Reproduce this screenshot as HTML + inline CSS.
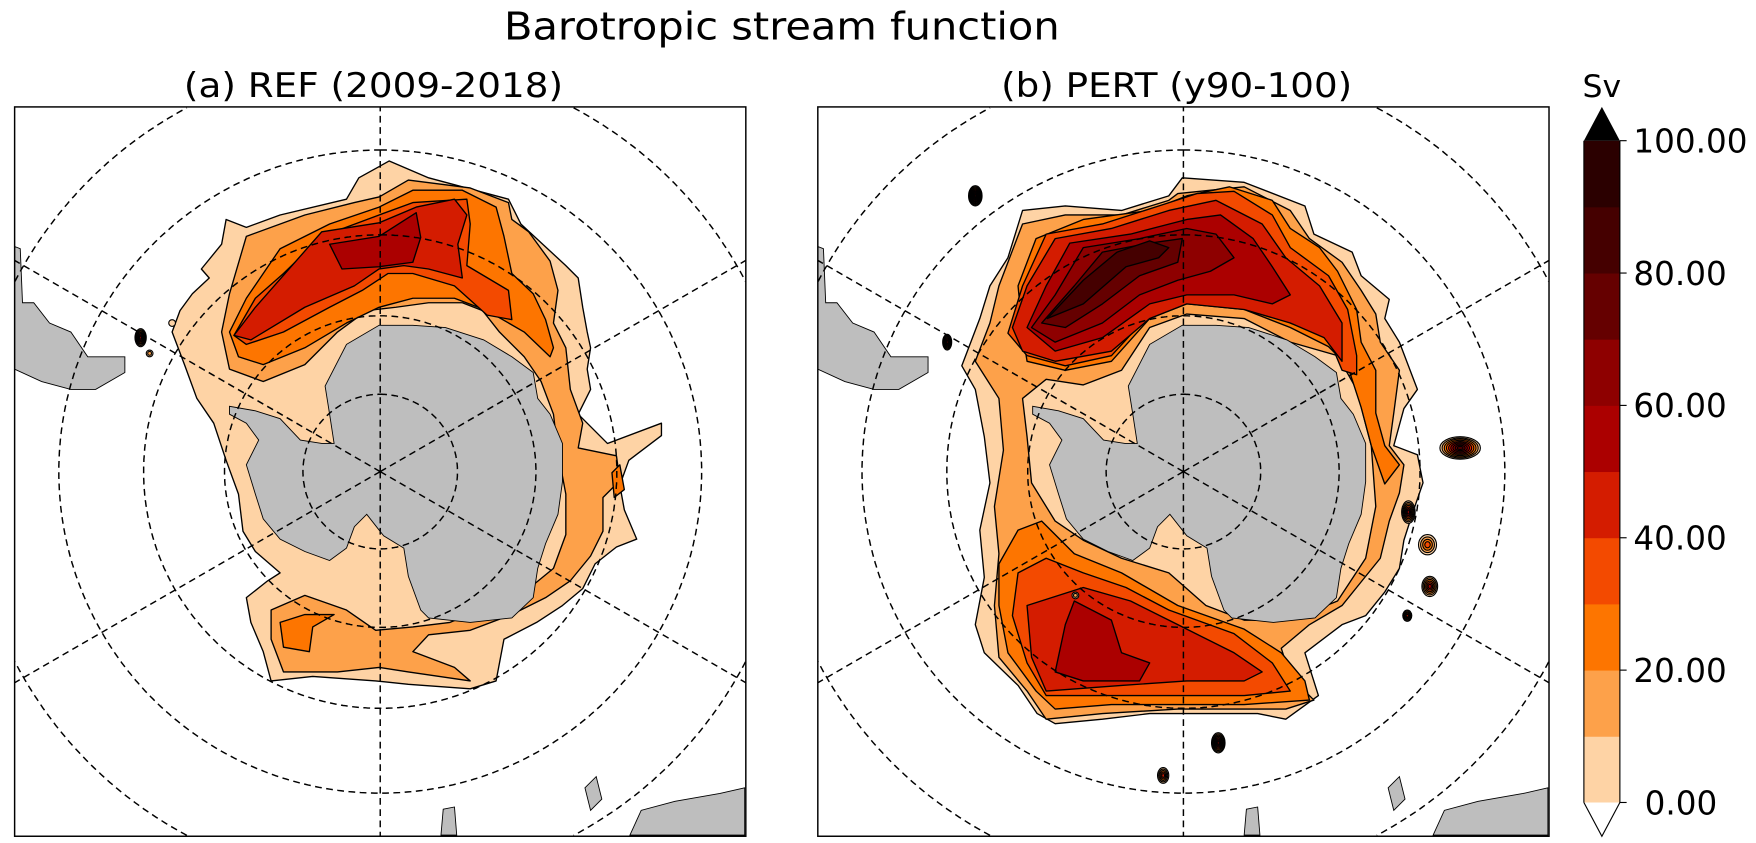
<!DOCTYPE html>
<html><head><meta charset="utf-8"><title>Barotropic stream function</title>
<style>html,body{margin:0;padding:0;background:#fff;width:1756px;height:843px;overflow:hidden;}svg{display:block;}</style></head>
<body>
<svg id="fig" xmlns="http://www.w3.org/2000/svg" width="1756" height="843" viewBox="0 0 1561 749" preserveAspectRatio="none" font-family="DejaVu Sans, Liberation Sans, sans-serif">
<rect x="0" y="0" width="1561" height="749" fill="#fff"/>
<text x="695" y="35" font-size="34" text-anchor="middle" textLength="494" lengthAdjust="spacingAndGlyphs">Barotropic stream function</text>
<text x="332" y="86" font-size="30" text-anchor="middle" textLength="337" lengthAdjust="spacingAndGlyphs">(a) REF (2009-2018)</text>
<text x="1046" y="86" font-size="30" text-anchor="middle" textLength="312" lengthAdjust="spacingAndGlyphs">(b) PERT (y90-100)</text>
<text x="1424" y="86" font-size="28" text-anchor="middle">Sv</text>
<defs>
<clipPath id="clipA"><rect x="13" y="95" width="650" height="648"/></clipPath>
<clipPath id="clipB"><rect x="727" y="95" width="650" height="648"/></clipPath>
</defs>
<g id="panelA" clip-path="url(#clipA)"></g>
<g id="panelB" clip-path="url(#clipB)"></g>
<g id="cbar"></g>
</svg>
<script>
// ---- Colour levels (Sv) ----
const levelValues = [0,10,20,30,40,50,60,70,80,90];
const levelColors = ["#fed3a5","#fda14a","#fd7500","#f34a00","#d41c00","#ab0000","#8e0000","#650000","#450000","#2b0000"];
const cbarTicks = [0,20,40,60,80,100];
const cbarTickLabels = ["0.00","20.00","40.00","60.00","80.00","100.00"];
const gridColats = [10,20,30,40,50];
const gridLons = [0,60,120,180,240,300];

// ---- Contour polygons, polar-stereographic grid coords (east, north), ~16 km units ----
const refL0 = [[8,276],[43,261],[114,242],[125,220],[165,183],[176,172],[180,146],[184,124],[187,110],[184,91],[187,73],[176,51],[202,25],[250,43],[250,32],[221,10],[213,-12],[217,-34],[228,-60],[210,-67],[191,-82],[180,-104],[162,-119],[139,-134],[110,-149],[103,-186],[80,-193],[25,-189],[-4,-186],[-60,-182],[-97,-186],[-104,-160],[-115,-134],[-119,-112],[-100,-97],[-89,-90],[-111,-71],[-122,-53],[-126,-20],[-137,10],[-148,43],[-163,65],[-174,95],[-185,124],[-178,143],[-167,158],[-152,172],[-159,180],[-141,202],[-137,224],[-119,217],[-89,228],[-30,242],[-19,261]];
const refL1 = [[-134,158],[-119,209],[-67,228],[-23,239],[-1,244],[25,259],[80,252],[114,239],[117,224],[132,213],[151,187],[158,161],[154,132],[165,110],[169,73],[180,43],[176,21],[210,14],[213,-8],[198,-23],[198,-53],[187,-75],[169,-97],[147,-112],[117,-127],[80,-141],[43,-145],[29,-160],[66,-174],[80,-186],[25,-178],[-1,-174],[-38,-178],[-86,-178],[-97,-149],[-97,-123],[-67,-110],[-30,-123],[-4,-141],[29,-138],[62,-134],[99,-119],[132,-104],[154,-86],[165,-56],[165,-20],[158,17],[154,51],[143,80],[128,102],[106,124],[91,143],[73,150],[43,150],[14,146],[-12,143],[-38,124],[-67,95],[-104,80],[-134,91],[-141,124]];
const refL2a = [[-126,102],[-134,124],[-119,154],[-89,198],[-45,220],[-1,235],[29,250],[73,250],[103,235],[110,209],[117,176],[136,158],[147,135],[154,110],[151,102],[128,124],[95,143],[66,154],[29,154],[-1,146],[-30,132],[-67,110],[-104,95]];
const refL2b = [[-89,-134],[-67,-127],[-41,-127],[-60,-138],[-63,-160],[-86,-156]];
const refL2c = [[206,-1],[213,6],[217,-16],[208,-23]];
const refL3 = [[-130,121],[-111,154],[-86,176],[-52,209],[-1,228],[29,239],[77,242],[80,220],[77,183],[114,161],[117,135],[95,139],[66,165],[29,176],[7,176],[-16,161],[-45,146],[-86,124],[-119,113]];
const refL4 = [[-130,121],[-111,146],[-52,213],[-1,221],[32,235],[66,242],[77,228],[69,202],[73,172],[43,180],[21,183],[-1,180],[-23,165],[-67,146],[-115,117]];
const refL5 = [[-45,202],[-1,209],[32,230],[36,208],[29,186],[-1,182],[-34,180]];

const pertL0 = [[-1,261],[54,257],[108,236],[116,211],[150,195],[158,174],[183,153],[179,136],[192,115],[208,73],[196,56],[187,23],[208,15],[213,-10],[204,-36],[196,-61],[192,-86],[179,-107],[162,-128],[141,-136],[108,-161],[120,-199],[91,-220],[66,-215],[12,-215],[-30,-215],[-72,-220],[-114,-224],[-130,-215],[-147,-190],[-177,-161],[-185,-136],[-177,-94],[-181,-52],[-172,-10],[-177,31],[-185,73],[-197,94],[-181,136],[-172,165],[-156,190],[-143,232],[-105,236],[-55,232],[-13,245]];
const pertL1 = [[-5,247],[54,253],[95,232],[112,207],[141,186],[158,161],[171,140],[175,115],[192,90],[187,52],[183,23],[196,6],[192,-19],[183,-44],[175,-77],[158,-98],[141,-119],[112,-136],[87,-157],[95,-182],[116,-203],[91,-211],[54,-211],[-5,-211],[-72,-215],[-122,-220],[-139,-195],[-164,-165],[-168,-119],[-164,-73],[-168,-31],[-160,19],[-164,65],[-185,98],[-172,132],[-164,165],[-143,220],[-105,228],[-55,228],[-13,241]];
const pertL1hole = [[-122,82],[-89,77],[-55,90],[-30,128],[3,140],[54,136],[95,115],[137,103],[154,73],[167,23],[171,-31],[162,-77],[137,-115],[95,-132],[54,-132],[20,-119],[-13,-90],[-55,-77],[-89,-61],[-114,-44],[-135,-10],[-139,31],[-143,65]];
const pertL2a = [[-143,123],[-147,165],[-131,207],[-89,224],[-30,232],[3,245],[41,253],[79,241],[95,216],[121,199],[137,178],[154,144],[158,115],[171,90],[171,52],[179,23],[192,6],[179,-11],[167,23],[158,57],[146,94],[129,111],[95,128],[54,144],[3,149],[-30,136],[-64,98],[-105,90],[-139,98]];
const pertL2b = [[-164,-82],[-147,-52],[-126,-44],[-97,-73],[-55,-90],[-5,-119],[54,-140],[87,-161],[108,-186],[112,-203],[54,-207],[-5,-207],[-64,-207],[-114,-211],[-131,-195],[-156,-161],[-164,-119]];
const pertL3a = [[-156,123],[-143,165],[-122,211],[-72,220],[-22,236],[12,247],[45,249],[79,228],[95,199],[129,174],[146,144],[154,103],[154,86],[141,90],[129,119],[95,132],[54,149],[3,153],[-30,140],[-64,103],[-105,94],[-139,103]];
const pertL3b = [[-147,-90],[-122,-77],[-89,-90],[-51,-103],[-13,-123],[45,-144],[79,-170],[95,-195],[54,-199],[-5,-199],[-64,-199],[-122,-199],[-139,-170],[-152,-128]];
const pertL4a = [[-152,128],[-139,165],[-114,207],[-64,216],[-13,232],[29,241],[70,220],[91,190],[121,165],[141,132],[141,98],[125,119],[95,132],[54,144],[3,149],[-30,136],[-64,107],[-114,98],[-143,107]];
const pertL4b = [[-139,-119],[-114,-111],[-89,-103],[-47,-115],[-5,-136],[45,-161],[70,-178],[54,-186],[3,-186],[-55,-190],[-122,-195],[-135,-165]];
const pertL5a = [[-139,128],[-122,165],[-101,203],[-47,211],[3,224],[33,228],[62,207],[79,182],[95,157],[79,149],[45,157],[3,157],[-30,149],[-72,119],[-114,107]];
const pertL5b = [[-114,-178],[-105,-136],[-97,-115],[-64,-132],[-55,-161],[-30,-170],[-39,-186],[-89,-186]];
const pertL6 = [[-135,128],[-114,157],[-89,199],[-39,207],[3,216],[29,211],[45,190],[24,178],[-5,170],[-39,157],[-72,132],[-114,115]];
const pertL7 = [[-126,132],[-97,165],[-72,195],[-30,203],[-1,207],[-5,186],[-39,174],[-72,149],[-105,128]];
const pertL8 = [[-121,136],[-89,170],[-59,195],[-30,205],[-13,199],[-22,190],[-51,182],[-89,149]];

// isolated eddies: [east, north, semi-axis-east, semi-axis-north, top level]
const refEddies = [[-213,119,5,8,6],[-205,105,3,3,1],[-185,132,3,3,0]];
const pertEddies = [[-185,245,6,9,9],[246,21,18,10,8],[200,-36,6,10,6],[217,-65,8,9,3],[219,-102,7,9,5],[199,-128,4,5,4],[31,-241,6,9,7],[-18,-270,5,7,4],[-210,115,4,7,6],[-96,-110,3,3,1]];

// land polygons (grid coords)
const antarctica = [[-49,76],[-30,113],[-1,130],[29,130],[58,128],[92,117],[117,102],[136,88],[140,65],[151,51],[162,25],[162,-9],[158,-38],[147,-64],[140,-86],[136,-112],[117,-130],[80,-134],[43,-130],[36,-123],[25,-93],[21,-68],[3,-57],[-12,-38],[-23,-49],[-30,-68],[-45,-79],[-67,-71],[-89,-60],[-104,-42],[-111,-20],[-119,6],[-108,28],[-119,43],[-134,51],[-134,58],[-111,54],[-89,47],[-71,28],[-52,25],[-41,25],[-45,51]];
const southAmerica = [[-325,200],[-320,198],[-318,150],[-308,150],[-294,132],[-275,124],[-260,102],[-227,102],[-227,88],[-253,73],[-275,73],[-301,80],[-325,91]];
const australia = [[222,-323],[232,-301],[262,-293],[302,-286],[324,-281],[324,-323]];
const tasmania = [[182,-281],[192,-271],[197,-291],[187,-301]];
const newZealandBit = [[56,-300],[66,-298],[68,-323],[54,-323]];

const refContours = [[0,[refL0]],[1,[refL1]],[2,[refL2a]],[2,[refL2b]],[2,[refL2c]],[3,[refL3]],[4,[refL4]],[5,[refL5]]];
const pertContours = [[0,[pertL0]],[1,[pertL1,pertL1hole]],[2,[pertL2a]],[2,[pertL2b]],[3,[pertL3a]],[3,[pertL3b]],[4,[pertL4a]],[4,[pertL4b]],[5,[pertL5a]],[5,[pertL5b]],[6,[pertL6]],[7,[pertL7]],[8,[pertL8]]];

const NS = "http://www.w3.org/2000/svg";
const PROJ_K = 785;
const CY = 419, BOX_T = 95, BOX_B = 743, HALF_W = 325;
function mk(tag, attrs, parent){const e=document.createElementNS(NS,tag);for(const k in attrs)e.setAttribute(k,attrs[k]);parent.appendChild(e);return e;}
function xy(cx,p){return [cx+p[0], CY-p[1]];}
function colatR(c){return PROJ_K*Math.tan(c*Math.PI/360);}
function ringPath(cx,pts){return pts.map((p,i)=>{const q=xy(cx,p);return (i?"L":"M")+q[0].toFixed(1)+" "+q[1].toFixed(1);}).join("")+"Z";}
function inBox(cx,x,y){return x>=cx-HALF_W-0.01 && x<=cx+HALF_W+0.01 && y>=BOX_T-0.01 && y<=BOX_B+0.01;}

function drawPanel(g, cx, contours, eddies, tag){
  const fills = mk("g",{},g);
  
  
  contours.forEach(([lev, rings])=>{
    const p = mk("path",{d:rings.map(r=>ringPath(cx,r)).join(""),fill:levelColors[lev],"fill-rule":"evenodd",stroke:"#000","stroke-width":"1.2","stroke-linejoin":"round"},fills);
    
    
  });
  const land = mk("g",{},g);
  
  
  [["antarctica",antarctica],["south-america",southAmerica],["australia",australia],["tasmania",tasmania],["new-zealand",newZealandBit]].forEach(([nm,poly])=>{
    const p = mk("path",{d:ringPath(cx,poly),fill:"#bebebe",stroke:"#000","stroke-width":"0.8"},land);
    
    
  });
  eddies.forEach(e=>{
    const q=xy(cx,e);
    for(let l=0;l<=e[4];l++){
      const f=1-l/(e[4]+1.3);
      const el = mk("ellipse",{cx:q[0],cy:q[1],rx:(e[2]*f).toFixed(2),ry:(e[3]*f).toFixed(2),fill:levelColors[l],stroke:"#000","stroke-width":"1"},g);
      
      
    }
  });
  const grid = mk("g",{fill:"none",stroke:"#000","stroke-width":"1.3","stroke-dasharray":"6 4"},g);
  
  
  gridColats.forEach(c=>{
    const r=colatR(c); let d=""; let pen=false;
    for(let i=0;i<=720;i++){
      const t=i/720*2*Math.PI, x=cx+r*Math.sin(t), y=CY-r*Math.cos(t);
      if(inBox(cx,x,y)){d+=(pen?"L":"M")+x.toFixed(1)+" "+y.toFixed(1);pen=true;} else pen=false;
    }
    const ci = mk("path",{d:d},grid);
    
    
  });
  gridLons.forEach(a=>{
    const t=a*Math.PI/180, sx=Math.sin(t), sy=-Math.cos(t);
    let L=1e9;
    if(Math.abs(sx)>1e-6) L=Math.min(L,HALF_W/Math.abs(sx));
    if(sy>1e-6) L=Math.min(L,(BOX_B-CY)/sy);
    if(sy<-1e-6) L=Math.min(L,(CY-BOX_T)/(-sy));
    const ln = mk("line",{x1:cx,y1:CY,x2:(cx+L*sx).toFixed(1),y2:(CY+L*sy).toFixed(1)},grid);
    
    
  });
}
drawPanel(document.getElementById("panelA"), 338, refContours, refEddies, "panel-a");
drawPanel(document.getElementById("panelB"), 1052, pertContours, pertEddies, "panel-b");
const svg=document.getElementById("fig");
[[13,"panel-a-frame"],[727,"panel-b-frame"]].forEach(([x,nm])=>{
  const r = mk("rect",{x:x,y:95,width:650,height:648,fill:"none",stroke:"#000","stroke-width":"1.3"},svg);
  
  
});

// ---- colorbar ----
const cb=document.getElementById("cbar");
const CB_X=1408, CB_W=32, CB_TOP=125, CB_BOT=713;
function cbY(v){return CB_BOT-(v/100)*(CB_BOT-CB_TOP);}
levelValues.forEach((v,i)=>{
  const r = mk("rect",{x:CB_X,y:cbY(v+10).toFixed(2),width:CB_W,height:(cbY(v)-cbY(v+10)+0.4).toFixed(2),fill:levelColors[i]},cb);
  
  
});
const up = mk("path",{d:`M${CB_X} ${CB_TOP}L${CB_X+CB_W/2} 95L${CB_X+CB_W} ${CB_TOP}Z`,fill:"#000"},cb);


const dn = mk("path",{d:`M${CB_X} ${CB_BOT}L${CB_X+CB_W/2} 743L${CB_X+CB_W} ${CB_BOT}`,fill:"#fff",stroke:"#000","stroke-width":"1"},cb);


const ol = mk("path",{d:`M${CB_X} ${CB_BOT}L${CB_X} ${CB_TOP}M${CB_X+CB_W} ${CB_TOP}L${CB_X+CB_W} ${CB_BOT}`,fill:"none",stroke:"#000","stroke-width":"1"},cb);


cbarTicks.forEach((v,i)=>{
  const y=cbY(v);
  const t = mk("line",{x1:CB_X+CB_W,y1:y,x2:CB_X+CB_W+6,y2:y,stroke:"#000","stroke-width":"1"},cb);
  
  
  const tx = mk("text",{x:v===0?1462:1452,y:(y+10.5).toFixed(1),"font-size":"29"},cb);
  tx.textContent=cbarTickLabels[i];
  
  
});
</script>
</body></html>
